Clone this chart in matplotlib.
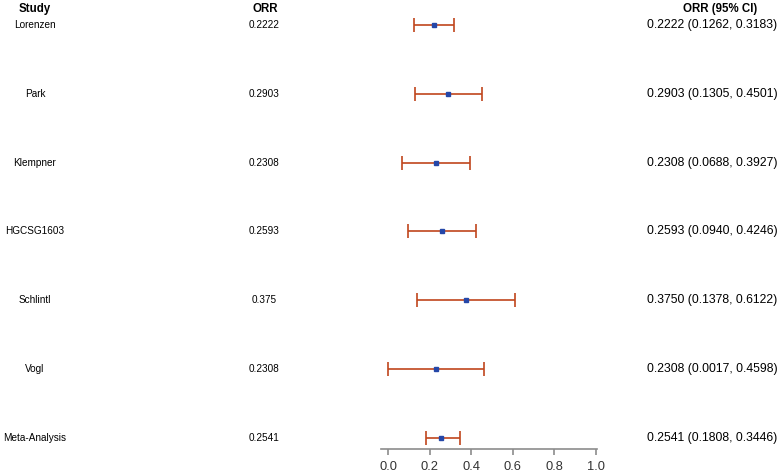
import numpy as np
import matplotlib.pyplot as plt
from matplotlib.transforms import blended_transform_factory

plt.rcParams['font.family'] = ['Liberation Sans', 'DejaVu Sans']

studies = ['Lorenzen', 'Park', 'Klempner', 'HGCSG1603', 'Schlintl', 'Vogl', 'Meta-Analysis']
orr_text = ['0.2222', '0.2903', '0.2308', '0.2593', '0.375', '0.2308', '0.2541']
orr = [0.2222, 0.2903, 0.2308, 0.2593, 0.3750, 0.2308, 0.2541]
lower = [0.1262, 0.1305, 0.0688, 0.0940, 0.1378, 0.0017, 0.1808]
upper = [0.3183, 0.4501, 0.3927, 0.4246, 0.6122, 0.4598, 0.3446]
ticks = [0.0, 0.2, 0.4, 0.6, 0.8, 1.0]

W, H = 782, 475
fig = plt.figure(figsize=(W / 100, H / 100), dpi=100)
# forest panel: pixel box x 381..597, y 0..449
ax = fig.add_axes([381 / W, (H - 449) / H, 216 / W, 449 / H])

n = len(studies)
ys = np.arange(n)[::-1]  # first study on top
orr = np.array(orr)
lo = orr - np.array(lower)
hi = np.array(upper) - orr

ax.errorbar(orr, ys, xerr=[lo, hi], fmt='none', ecolor='#c0461c',
            elinewidth=1.2, capsize=5, capthick=1.2)
ax.plot(orr, ys, 's', color='#2547a8', markersize=2.2, zorder=3)

ax.set_xlim(-7 / 208, 1 + 1 / 208)
ax.set_ylim(-0.16, n - 1 + 0.363)
ax.set_xticks(ticks)
ax.set_xticklabels(['%.1f' % t for t in ticks], fontsize=9.3, color='#333333')
ax.set_yticks([])
for s in ['top', 'right', 'left']:
    ax.spines[s].set_visible(False)
ax.spines['bottom'].set_color('#8c8c8c')
ax.spines['bottom'].set_linewidth(1.2)
ax.tick_params(axis='x', length=4.5, width=1.2, color='#8c8c8c', pad=4.5)

tr = blended_transform_factory(fig.transFigure, ax.transData)
head_y = 1 - 9 / H
fig.text(35 / W, head_y, 'Study', ha='center', va='center', fontsize=8.3, fontweight='bold')
fig.text(265 / W, head_y, 'ORR', ha='center', va='center', fontsize=8.3, fontweight='bold')
fig.text(720 / W, head_y, 'ORR (95% CI)', ha='center', va='center', fontsize=8.3, fontweight='bold')

for i in range(n):
    y = ys[i]
    fig.text(35 / W, y, studies[i], ha='center', va='center', fontsize=7.2, transform=tr)
    fig.text(264 / W, y, orr_text[i], ha='center', va='center', fontsize=7.2, transform=tr)
    ci = '%.4f (%.4f, %.4f)' % (orr[i], lower[i], upper[i])
    fig.text(712 / W, y, ci, ha='center', va='center', fontsize=8.8, transform=tr)

fig.savefig('out.png', dpi=100)
